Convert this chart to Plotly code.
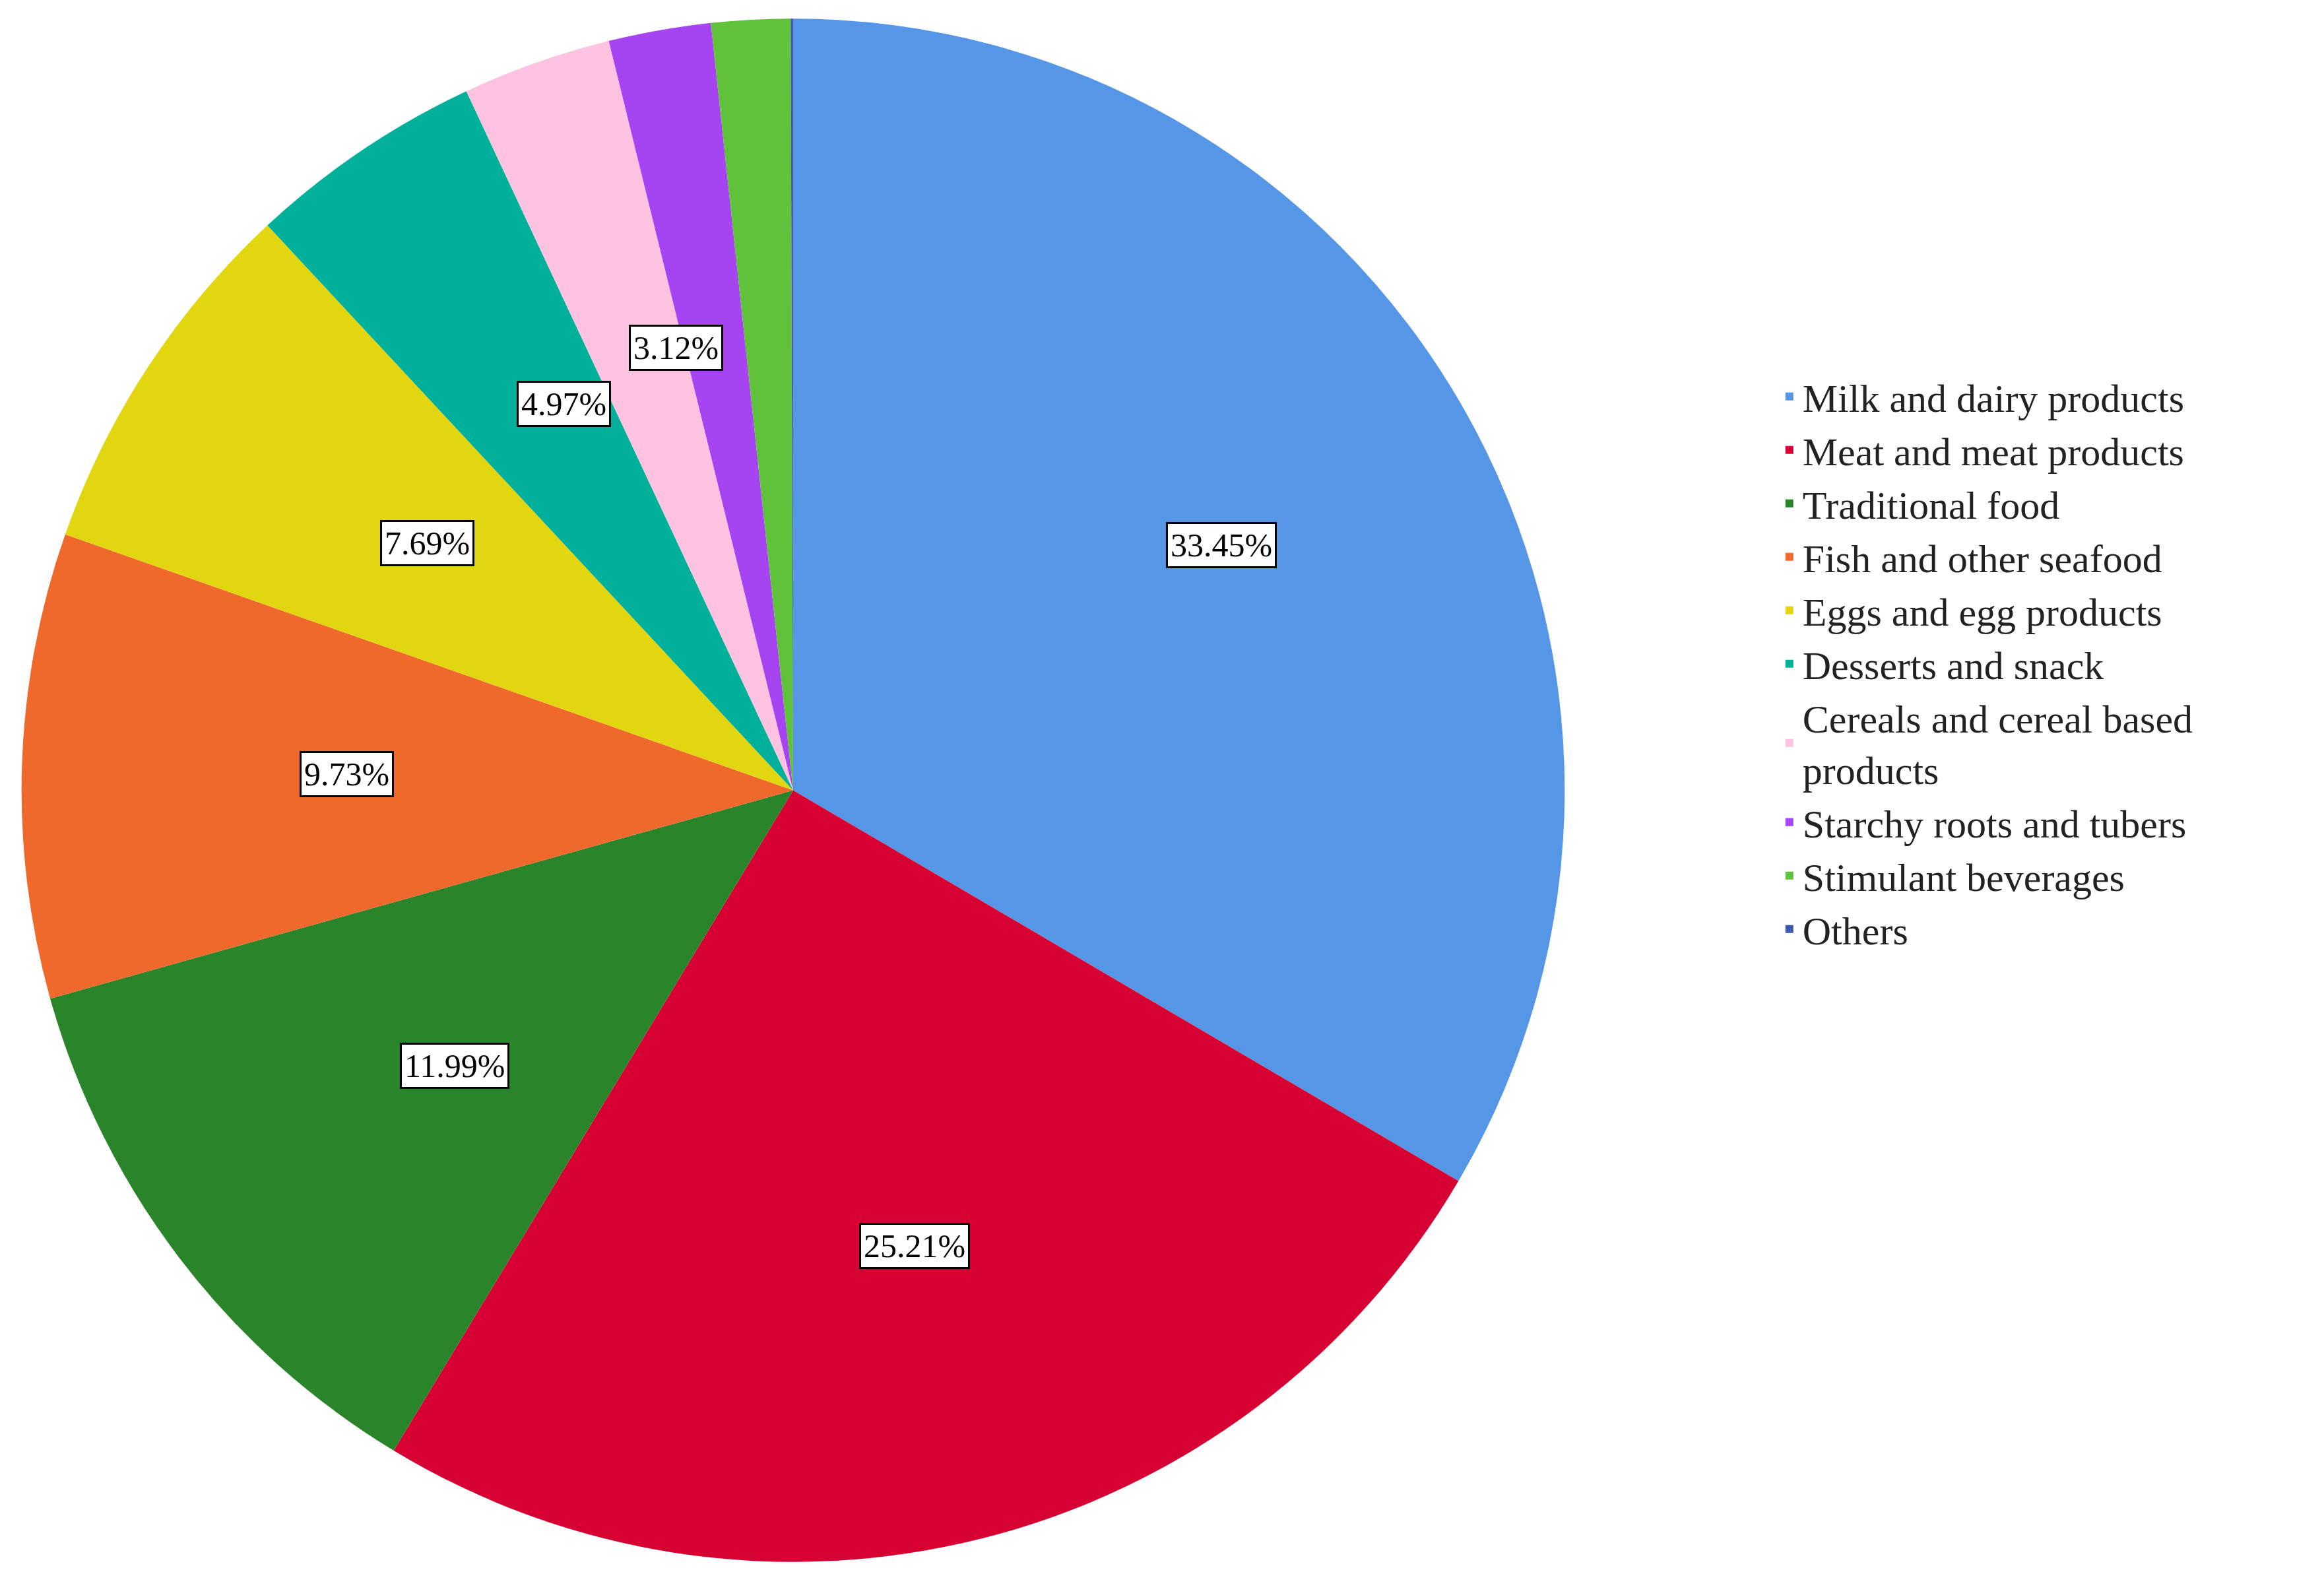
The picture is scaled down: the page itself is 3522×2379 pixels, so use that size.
import math
import plotly.graph_objects as go

categories = ["Milk and dairy products", "Meat and meat products", "Traditional food",
              "Fish and other seafood", "Eggs and egg products", "Desserts and snack",
              "Cereals and cereal based<br>products", "Starchy roots and tubers",
              "Stimulant beverages", "Others"]
values = [33.45, 25.21, 11.99, 9.73, 7.69, 4.97, 3.12, 2.14, 1.65, 0.05]
labels_shown = ["33.45%", "25.21%", "11.99%", "9.73%", "7.69%", "4.97%", "3.12%", "", "", ""]
colors = ["#5596E6", "#D60032", "#2A8429", "#F0692C", "#E2D611", "#00B09B",
          "#FDC3E1", "#A744F1", "#5FC23A", "#3E58AC"]

W, H = 3522, 2379
dom_x = [0.007, 0.671]
dom_y = [0.008, 0.992]

fig = go.Figure(go.Pie(
    labels=categories, values=values, sort=False, direction="clockwise", rotation=0,
    marker=dict(colors=colors, line=dict(width=0)), textinfo="none", hoverinfo="label+percent",
    domain=dict(x=dom_x, y=dom_y)))

cx = (dom_x[0] + dom_x[1]) / 2 * W
cy = (dom_y[0] + dom_y[1]) / 2 * H
R = min((dom_x[1] - dom_x[0]) * W, (dom_y[1] - dom_y[0]) * H) / 2
total = sum(values)
cum = 0
annos = []
for v, t in zip(values, labels_shown):
    mid = (cum + v / 2) / total * 2 * math.pi
    cum += v
    if not t:
        continue
    r = R * 0.64
    px = cx + r * math.sin(mid)
    py = cy + r * math.cos(mid)
    annos.append(dict(x=px / W, y=py / H, xref="paper", yref="paper", text=t, showarrow=False,
                      font=dict(family="Liberation Serif", size=50, color="black"),
                      bgcolor="white", bordercolor="black", borderwidth=3, borderpad=4))

fig.update_layout(
    width=W, height=H, margin=dict(l=0, r=0, t=0, b=0), paper_bgcolor="white",
    annotations=annos,
    legend=dict(x=0.762, y=0.77, xanchor="left", yanchor="top",
                font=dict(family="Liberation Serif", size=60, color="#222"),
                itemwidth=30, tracegroupgap=0))
fig.write_html("out.html")
